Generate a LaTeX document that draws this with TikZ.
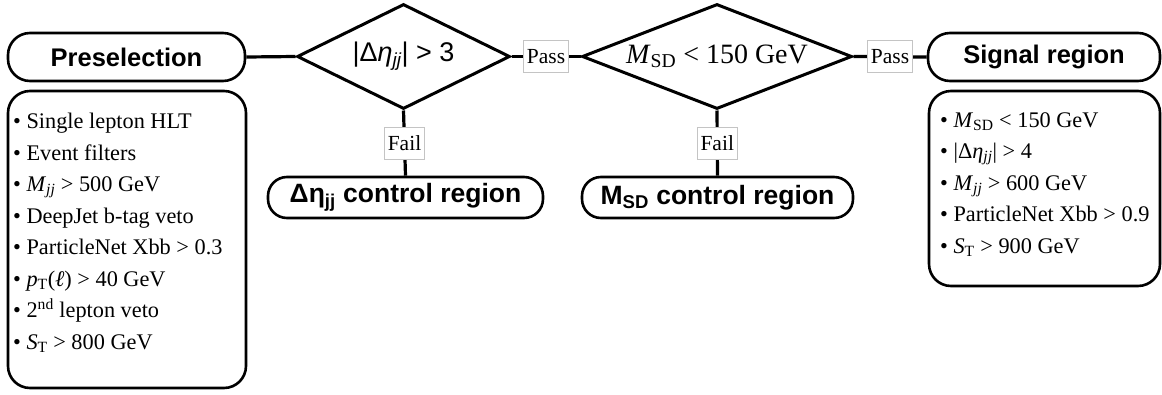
\documentclass[tikz,border=0pt]{standalone}
\usepackage{fontspec}
\setmainfont{Liberation Serif}
\setsansfont{Liberation Sans}
\usetikzlibrary{shapes.geometric}
\definecolor{lblgray}{HTML}{C4C4C4}
\newcommand{\hdrfont}{\fontsize{25.5}{30}\selectfont\sffamily\bfseries}
\newcommand{\itemfont}{\fontsize{22.3}{27}\selectfont}
\tikzset{
  pill/.style={draw, line width=2.6pt, rounded corners=22pt, inner sep=0pt, font=\hdrfont},
  cpill/.style={draw, line width=2.6pt, rounded corners=19pt, inner sep=0pt, font=\hdrfont},
  dia/.style={diamond, draw, line width=3pt, inner sep=0pt},
  lbl/.style={draw=lblgray, line width=0.8pt, fill=white, inner xsep=3.5pt, inner ysep=0pt,
              minimum height=32pt, font=\fontsize{21.5}{24}\selectfont},
  conn/.style={line width=3.2pt},
  listbox/.style={draw, line width=2.6pt, rounded corners=22pt, inner sep=0pt},
  listitem/.style={anchor=base west, inner sep=0pt, font=\itemfont},
}
\begin{document}
\begin{tikzpicture}[x=1pt,y=-1pt]
\useasboundingbox (0,0) rectangle (1162,394);

% header pills
\node[pill, minimum width=237pt, minimum height=48pt] (pre) at (126.5,57) {Preselection};
\node[pill, minimum width=232pt, minimum height=48pt] (sig) at (1044,57) {Signal region};

% diamonds
\node[dia, shape aspect=2.03, minimum width=213pt, minimum height=105pt] (d1) at (403.5,56.5)
  {\fontsize{27}{30}\selectfont\sffamily |Δ{\itshape η}\textsubscript{\itshape jj}| > 3};
\node[dia, shape aspect=2.57, minimum width=270pt, minimum height=105pt] (d2) at (717,56.5)
  {\fontsize{28}{32}\selectfont \textit{M}\textsubscript{SD} < 150 GeV};

% control region pills
\node[cpill, minimum width=275pt, minimum height=41pt, font=\fontsize{26.5}{30}\selectfont\sffamily\bfseries] (cre) at (405.5,197.5)
  {Δη\textsubscript{jj} control region};
\node[cpill, minimum width=271pt, minimum height=41pt, font=\fontsize{26.5}{30}\selectfont\sffamily\bfseries] (crm) at (717.5,197.5)
  {M\textsubscript{SD} control region};

% connectors
\draw[conn] (pre.east) -- (d1.west);
\draw[conn] (d1.east) -- node[lbl] (pass1) {Pass} (d2.west);
\draw[conn] (d2.east) -- node[lbl] (pass2) {Pass} (sig.west);
\draw[conn] (d1.south) -- node[lbl] (fail1) {Fail} (cre.north);
\draw[conn] (d2.south) -- node[lbl] (fail2) {Fail} (crm.north);

% list boxes
\node[listbox, minimum width=238pt, minimum height=297pt] (prebox) at (127,239.5) {};
\node[listbox, minimum width=231pt, minimum height=195pt] (sigbox) at (1044.5,188.5) {};

% preselection items
\node[listitem] (p1) at (13,128.5) {• Single lepton HLT};
\node[listitem] (p2) at (13,160) {• Event filters};
\node[listitem] (p3) at (13,191.5) {• \textit{M}\textsubscript{\itshape jj} > 500 GeV};
\node[listitem] (p4) at (13,223) {• DeepJet b-tag veto};
\node[listitem] (p5) at (13,254.5) {• ParticleNet Xbb > 0.3};
\node[listitem] (p6) at (13,286) {• \textit{p}\textsubscript{T}(\textit{ℓ}) > 40 GeV};
\node[listitem] (p7) at (13,317.5) {• 2\textsuperscript{nd} lepton veto};
\node[listitem] (p8) at (13,349) {• \textit{S}\textsubscript{T} > 800 GeV};

% signal items
\node[listitem] (s1) at (940,127) {• \textit{M}\textsubscript{SD} < 150 GeV};
\node[listitem] (s2) at (940,158.5) {• |Δ\textit{η}\textsubscript{\itshape jj}| > 4};
\node[listitem] (s3) at (940,190) {• \textit{M}\textsubscript{\itshape jj} > 600 GeV};
\node[listitem] (s4) at (940,221.5) {• ParticleNet Xbb > 0.9};
\node[listitem] (s5) at (940,253) {• \textit{S}\textsubscript{T} > 900 GeV};
\end{tikzpicture}
\end{document}
